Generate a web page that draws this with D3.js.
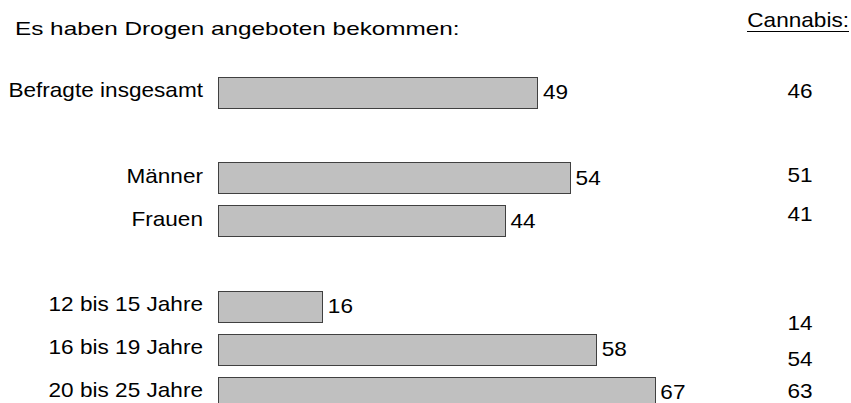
<!DOCTYPE html>
<html>
<head>
<meta charset="utf-8">
<script src="https://cdn.jsdelivr.net/npm/d3@7"></script>
<style>
  body { margin: 0; background: #fff; }
  svg { display: block; }
  text { font-family: "Liberation Sans", Arial, sans-serif; fill: #000; }
</style>
</head>
<body>
<div id="chart"></div>
<script>
// data
const title = "Es haben Drogen angeboten bekommen:"
const sideTitle = "Cannabis:"
const categories = ["Befragte insgesamt", "Männer", "Frauen", "12 bis 15 Jahre", "16 bis 19 Jahre", "20 bis 25 Jahre"]
const rowSlot = [0, 2, 3, 5, 6, 7]   // empty slots separate the groups
const offered = [49, 54, 44, 16, 58, 67]
const cannabis = [46, 51, 41, 14, 54, 63]

const width = 851, height = 403
const fontSize = 20
const stretch = 1.13   // the original picture is a bit wider than tall

const svg = d3.select("#chart").append("svg")
  .attr("width", width)
  .attr("height", height)

const x = d3.scaleLinear().domain([0, 100]).range([218.5, 870.5])
const y = d3.scaleLinear().domain([0, 7]).range([77, 377])
const barH = 31

// cannabis numbers in the original don't line up exactly with the bars
const cannabisNudge = [-1, -2, -6, 17, 10, -1]

function label(sel, tx, ty, sx) {
  return sel.attr("transform", (d, i) =>
    "translate(" + tx(d, i) + "," + ty(d, i) + ") scale(" + sx + ",1)")
}

svg.append("text")
  .call(label, () => 15, () => 35, 1.28)
  .style("font-size", "19px")
  .text(title)

const side = svg.append("text")
  .call(label, () => 849, () => 27, stretch)
  .attr("text-anchor", "end")
  .style("font-size", fontSize + "px")
  .text(sideTitle)

const rows = svg.selectAll(".row")
  .data(categories.map((c, i) => ({ c, slot: rowSlot[i], v: offered[i], k: cannabis[i], i })))
  .enter().append("g")
  .attr("class", "row")

rows.append("rect")
  .attr("x", x(0))
  .attr("y", d => y(d.slot))
  .attr("width", d => x(d.v) - x(0))
  .attr("height", barH)
  .attr("fill", "#c0c0c0")
  .attr("stroke", "#404040")
  .attr("stroke-width", 1)
  .attr("shape-rendering", "crispEdges")

rows.append("text")
  .call(label, () => 203, d => y(d.slot) + 20, stretch)
  .attr("text-anchor", "end")
  .style("font-size", fontSize + "px")
  .text(d => d.c)

rows.append("text")
  .call(label, d => x(d.v) + 5, d => y(d.slot) + 22, stretch)
  .style("font-size", fontSize + "px")
  .text(d => d.v)

rows.append("text")
  .call(label, () => 800, d => y(d.slot) + barH / 2 + 6 + cannabisNudge[d.i], stretch)
  .attr("text-anchor", "middle")
  .style("font-size", fontSize + "px")
  .text(d => d.k)

// underline under "Cannabis:"
const bb = side.node().getBBox()
svg.append("line")
  .attr("x1", 849 - bb.width * stretch).attr("x2", 849)
  .attr("y1", 31).attr("y2", 31)
  .attr("stroke", "#000")
  .attr("stroke-width", 1)
  .attr("shape-rendering", "crispEdges")
</script>
</body>
</html>
